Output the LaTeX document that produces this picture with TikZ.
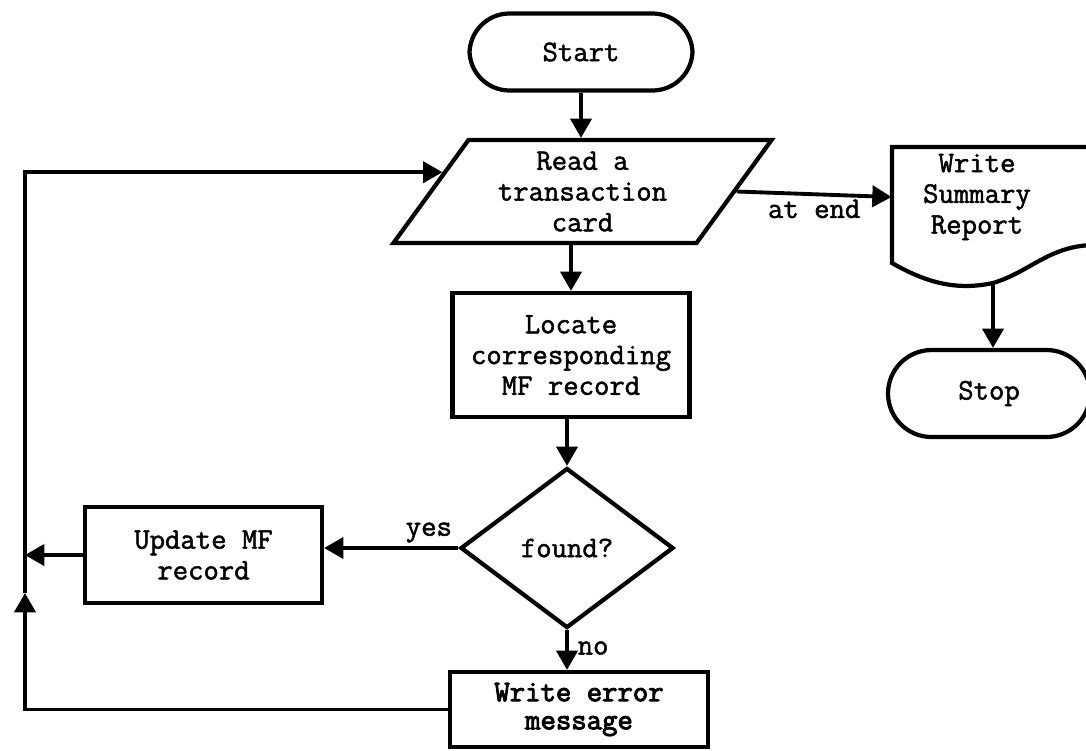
\documentclass[tikz,border=0pt]{standalone}
\usepackage{fontspec}
\setmonofont{Latin Modern Mono}[FakeBold=1.6]
\newfontfamily\heavytt{Latin Modern Mono}[FakeBold=3.2]
\usetikzlibrary{shapes.geometric,arrows.meta,calc}

\tikzset{
  typed/.style={font=\ttfamily\fontsize{17}{17.5}\selectfont, align=center},
  outline/.style={draw, line width=2.4pt, typed},
  term/.style={outline, rectangle, rounded corners=0.8cm},
  procbox/.style={outline, rectangle},
  iobox/.style={outline, trapezium, trapezium left angle=57, trapezium right angle=123, trapezium stretches=true},
  decide/.style={outline, diamond, inner sep=0pt},
  flow/.style={line width=2.2pt, -{Triangle[length=11pt,width=12pt]}},
  lbl/.style={typed, inner sep=2pt}
}

\begin{document}
\begin{tikzpicture}
                        \useasboundingbox (0,0) rectangle (21.72,-15);
                        \node[term, minimum width=4.46cm, minimum height=1.54cm] (start) at (11.62,-1.04) {Start};
                        \node[iobox, minimum width=7.58cm, minimum height=2.06cm] (read) at (11.65,-3.83) {Read a\\transaction\\card};
                        \node[procbox, minimum width=4.74cm, minimum height=2.48cm] (locate) at (11.42,-7.10) {Locate\\corresponding\\MF record};
                        \node[decide, minimum width=4.26cm, minimum height=3.2cm] (found) at (11.34,-10.96) {found?};
                        \node[procbox, minimum width=4.74cm, minimum height=1.92cm] (update) at (4.07,-11.10) {Update MF\\record};
                        \node[procbox, minimum width=5.16cm, minimum height=1.5cm, font=\heavytt\fontsize{17}{16}\selectfont] (error) at (11.58,-14.19) {Write error\\message};
                        \node[typed, minimum width=3.4cm, minimum height=2cm] (summary) at (19.54,-3.94) {Write\\Summary\\Report};
                        \node[term, minimum width=4.04cm, minimum height=1.74cm, rounded corners=0.87cm] (stop) at (19.78,-7.87) {Stop};
                        % document symbol, runs off the right edge
                        \draw[line width=2.4pt] (21.9,-2.94) -- (17.84,-2.94) -- (17.84,-5.26)
                              .. controls (18.6,-5.7) and (19.2,-5.8) .. (19.86,-5.66)
                              .. controls (20.6,-5.44) and (21.0,-4.9) .. (21.9,-4.9);
                        \coordinate (sumbot) at (19.86,-5.66);
                        \coordinate (upmark) at (0.5,-11.86);
                        \coordinate (readin) at ($(read.bottom left corner)!0.68!(read.top left corner)$);
                        % connectors
                        \draw[flow] (start.south) -- (start.south |- read.north);
                        \draw[flow] (locate.north |- read.south) -- (locate.north);
                        \draw[flow] (found.north |- locate.south) -- (found.north);
                        \draw[flow] (found.west) -- node[lbl, pos=0.22, above] {yes} (found.west -| update.east);
                        \draw[flow] (found.south) -- node[lbl, pos=0.45, right, inner sep=5pt] {no} (found.south |- error.north);
                        \draw[flow] (update.west) -- (update.west -| upmark);
                        \draw[flow] (error.west) -| (upmark);
                        \draw[flow] (upmark) |- (readin);
                        \draw[flow] (read.right side) -- node[lbl, midway, below] {at end} (summary.west);
                        \draw[flow] (sumbot) -- (sumbot |- stop.north);
                    \end{tikzpicture}
\end{document}
